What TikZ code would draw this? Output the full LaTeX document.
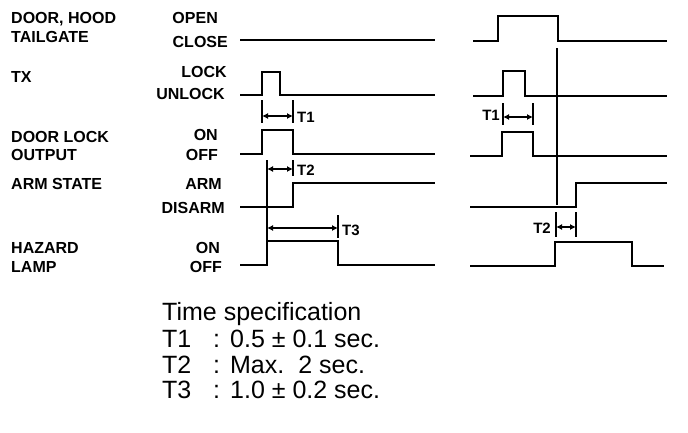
\documentclass[tikz,border=0pt]{standalone}
\usepackage{fontspec}
\setmainfont{Liberation Sans}
\usetikzlibrary{arrows.meta}

\begin{document}
\begin{tikzpicture}[x=1pt, y=-1pt,
    sig/.style={line width=2.6pt, line join=miter},
    tick/.style={line width=1.3pt},
    dimarrow/.style={line width=1.3pt, {Latex[length=6pt,width=6pt]}-{Latex[length=6pt,width=6pt]}},
    signame/.style={font=\bfseries\fontsize{16}{17}\selectfont, anchor=base west, inner sep=0pt},
    level/.style={font=\bfseries\fontsize{16}{17}\selectfont, anchor=base east, inner sep=0pt},
    tlabel/.style={font=\bfseries\fontsize{15}{16}\selectfont, inner sep=0pt},
    spec/.style={font=\fontsize{25}{28}\selectfont, anchor=base west, inner sep=0pt}]

    \useasboundingbox (0,0) rectangle (688,432);

    % SIGNAL NAMES
    \node[signame] (door1) at (11,23) {DOOR, HOOD};
    \node[signame] (door2) at (11,42) {TAILGATE};
    \node[signame] (tx) at (11,82) {TX};
    \node[signame] (lock1) at (11,142) {DOOR LOCK};
    \node[signame] (lock2) at (11,160) {OUTPUT};
    \node[signame] (arm) at (11,189) {ARM STATE};
    \node[signame] (haz1) at (11,253) {HAZARD};
    \node[signame] (haz2) at (11,272) {LAMP};

    % LEVELS
    \node[level] (open) at (218,23) {OPEN};
    \node[level] (close) at (228,47) {CLOSE};
    \node[level] (lock) at (227,77) {LOCK};
    \node[level] (unlock) at (225,99) {UNLOCK};
    \node[level] (lon) at (218,140) {ON};
    \node[level] (loff) at (218,160) {OFF};
    \node[level] (armed) at (222,189) {ARM};
    \node[level] (disarm) at (225,213) {DISARM};
    \node[level] (hon) at (220,253) {ON};
    \node[level] (hoff) at (222,272) {OFF};

    % LEFT WAVEFORMS
    \draw[sig] (240,40) -- (435,40);
    \draw[sig] (240,95) -- (262,95) -- (262,72) -- (280,72) -- (280,95) -- (435,95);
    \draw[sig] (240,154) -- (262,154) -- (262,130) -- (293,130) -- (293,154) -- (435,154);
    \draw[sig] (240,207) -- (293,207) -- (293,183) -- (435,183);
    \draw[sig] (240,265) -- (267,265) -- (267,241) -- (338,241) -- (338,265) -- (435,265);

    % LEFT TIMING MARKS
    \draw[tick] (262,100) -- (262,123);
    \draw[tick] (293,100) -- (293,123);
    \draw[dimarrow] (262,116) -- (293,116);
    \node[tlabel, anchor=base west] (t1a) at (297,122) {T1};

    \draw[tick] (267,160) -- (267,241);
    \draw[tick] (293,160) -- (293,176);
    \draw[dimarrow] (267,169) -- (293,169);
    \node[tlabel, anchor=base west] (t2a) at (297,175) {T2};

    \draw[tick] (338,215) -- (338,238);
    \draw[dimarrow] (267,228) -- (338,228);
    \node[tlabel, anchor=base west] (t3a) at (342,235) {T3};

    % RIGHT WAVEFORMS
    \draw[sig] (473,41) -- (498,41) -- (498,16) -- (558,16) -- (558,41) -- (667,41);
    \draw[sig] (473,96) -- (503,96) -- (503,71) -- (525,71) -- (525,96) -- (667,96);
    \draw[sig] (470,156) -- (502,156) -- (502,132) -- (533,132) -- (533,156) -- (667,156);
    \draw[sig] (470,207) -- (576,207) -- (576,183) -- (667,183);
    \draw[sig] (470,266) -- (555,266) -- (555,242) -- (632,242) -- (632,266) -- (664,266);

    % RIGHT TIMING MARKS
    \draw[tick] (557,48) -- (557,205);
    \draw[tick] (503,103) -- (503,125);
    \draw[tick] (533,103) -- (533,125);
    \draw[dimarrow] (503,117) -- (533,117);
    \node[tlabel, anchor=base east] (t1b) at (500,120) {T1};

    \draw[tick] (556,212) -- (556,237);
    \draw[tick] (576,212) -- (576,237);
    \draw[dimarrow] (556,227) -- (576,227);
    \node[tlabel, anchor=base east] (t2b) at (551,233) {T2};

    % TIME SPECIFICATION
    \node[spec] (spec0) at (162,320) {Time specification};
    \node[spec] (spec1) at (162,347) {\makebox[51pt][l]{T1}:\hspace{10pt}0.5 ± 0.1 sec.};
    \node[spec] (spec2) at (162,373) {\makebox[51pt][l]{T2}:\hspace{10pt}Max.\hspace{14pt}2 sec.};
    \node[spec] (spec3) at (162,398) {\makebox[51pt][l]{T3}:\hspace{10pt}1.0 ± 0.2 sec.};

\end{tikzpicture}
\end{document}
